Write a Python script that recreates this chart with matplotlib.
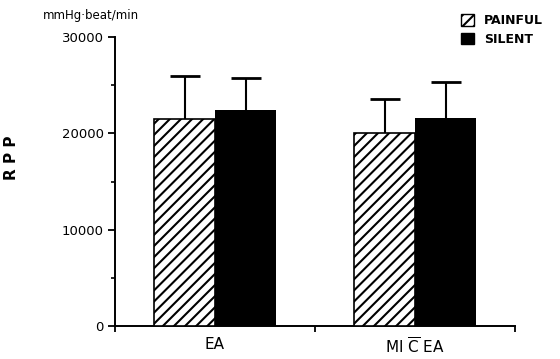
import matplotlib
matplotlib.use('Agg')
import matplotlib.pyplot as plt
from matplotlib.patches import Patch
import numpy as np

plt.rcParams.update({
    'font.family': 'DejaVu Sans',
    'hatch.linewidth': 1.5,
    'axes.linewidth': 1.4,
})

groups = ['EA', r'MI $\overline{\mathrm{C}}$ EA']
series = ['PAINFUL', 'SILENT']
painful = [21500, 20000]
painful_err = [4500, 3600]
silent = [22400, 21600]
silent_err = [3300, 3700]

fig = plt.figure(figsize=(5.6, 3.59), dpi=100)
ax = fig.add_axes([115/560, 1 - 326/359, 400/560, 289/359])

x = np.arange(len(groups))
w = 0.305
ax.bar(x - w/2, painful, w, color='white', edgecolor='black', hatch='///',
       linewidth=1.2, zorder=3)
ax.bar(x + w/2, silent, w, color='black', edgecolor='black', linewidth=0, zorder=3)

# upper-only error bars (drop the lower cap sitting on the bar top)
for xs, vals, errs in [(x - w/2, painful, painful_err), (x + w/2, silent, silent_err)]:
    _, caps, _ = ax.errorbar(xs, vals, yerr=[np.zeros(len(errs)), errs], fmt='none',
                             ecolor='black', elinewidth=1.5, capsize=10.5,
                             capthick=2.0, zorder=4)
    caps[0].set_visible(False)

ax.set_xlim(-0.5, 1.5)
ax.set_ylim(0, 30000)
ax.set_yticks([0, 10000, 20000, 30000])
ax.set_yticks([5000, 15000, 25000], minor=True)
ax.tick_params(axis='y', which='major', length=5, width=1.3, labelsize=9.5, pad=3)
ax.tick_params(axis='y', which='minor', length=3, width=1.2)

ax.set_xticks([-0.5, 0.5, 1.5])
ax.set_xticklabels([])
ax.set_xticks(x, minor=True)
ax.set_xticklabels(groups, minor=True, fontsize=11)
ax.tick_params(axis='x', which='major', length=4, width=1.3)
ax.tick_params(axis='x', which='minor', length=0, pad=8)

ax.spines['top'].set_visible(False)
ax.spines['right'].set_visible(False)

fig.text(12/560, 1 - 158/359, 'R P P', rotation=90, ha='center', va='center',
         fontsize=11, fontweight='bold')
fig.text(43/560, 1 - 15/359, 'mmHg·beat/min', ha='left', va='center', fontsize=8.5)

handles = [Patch(facecolor='white', edgecolor='black', hatch='///', linewidth=1.0),
           Patch(facecolor='black', edgecolor='black')]
fig.legend(handles, series, loc='upper left', bbox_to_anchor=(455/560, 1 - 8/359),
           frameon=False, handlelength=1.0, handleheight=1.0, handletextpad=0.8,
           labelspacing=0.45, borderpad=0, prop={'weight': 'bold', 'size': 9})

fig.savefig('out.png', dpi=100)
